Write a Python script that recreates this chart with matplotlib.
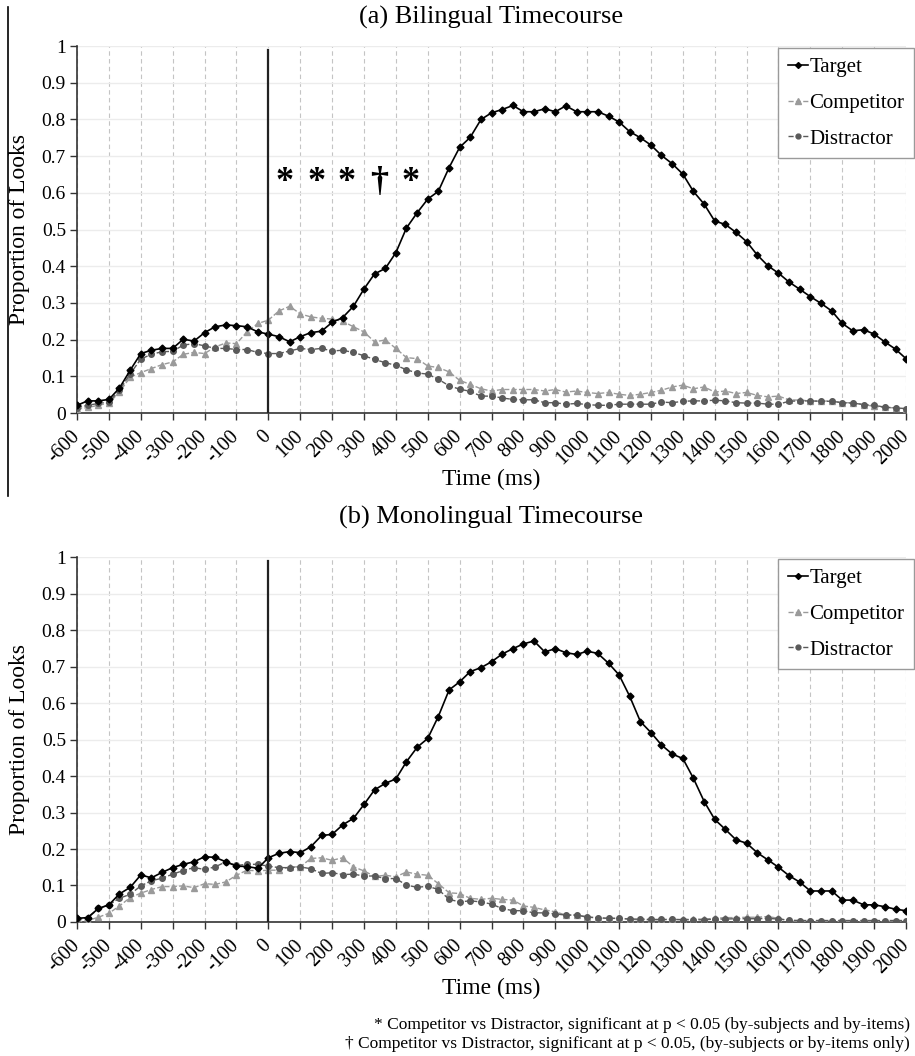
import numpy as np
import matplotlib
matplotlib.use("Agg")
import matplotlib.pyplot as plt
from matplotlib.lines import Line2D

plt.rcParams["font.family"] = ["Liberation Serif", "DejaVu Serif"]

#  time bins (ms), 1/30 s apart
time_ms = [-600, -567, -533, -500, -467, -433, -400, -367, -333, -300,
           -267, -233, -200, -167, -133, -100, -67, -33, 0, 33,
           67, 100, 133, 167, 200, 233, 267, 300, 333, 367,
           400, 433, 467, 500, 533, 567, 600, 633, 667, 700,
           733, 767, 800, 833, 867, 900, 933, 967, 1000, 1033,
           1067, 1100, 1133, 1167, 1200, 1233, 1267, 1300, 1333, 1367,
           1400, 1433, 1467, 1500, 1533, 1567, 1600, 1633, 1667, 1700,
           1733, 1767, 1800, 1833, 1867, 1900, 1933, 1967, 2000]

#  (a) bilingual
bil_target = [0.021, 0.033, 0.033, 0.037, 0.068, 0.117, 0.162, 0.171, 0.176, 0.176,
              0.201, 0.196, 0.219, 0.235, 0.240, 0.238, 0.235, 0.221, 0.215, 0.208,
              0.194, 0.208, 0.219, 0.223, 0.247, 0.260, 0.291, 0.338, 0.379, 0.394,
              0.437, 0.504, 0.546, 0.583, 0.604, 0.669, 0.724, 0.751, 0.800, 0.818,
              0.827, 0.838, 0.821, 0.821, 0.829, 0.821, 0.837, 0.821, 0.821, 0.821,
              0.809, 0.793, 0.767, 0.750, 0.730, 0.702, 0.679, 0.651, 0.604, 0.569,
              0.523, 0.514, 0.492, 0.467, 0.431, 0.401, 0.381, 0.357, 0.337, 0.317,
              0.299, 0.278, 0.244, 0.224, 0.227, 0.215, 0.194, 0.174, 0.148]
bil_comp = [0.010, 0.015, 0.021, 0.027, 0.057, 0.098, 0.110, 0.121, 0.132, 0.139,
            0.160, 0.165, 0.162, 0.180, 0.191, 0.189, 0.221, 0.244, 0.253, 0.278,
            0.291, 0.270, 0.262, 0.258, 0.256, 0.250, 0.235, 0.221, 0.194, 0.199,
            0.176, 0.151, 0.148, 0.128, 0.124, 0.112, 0.089, 0.078, 0.066, 0.060,
            0.064, 0.064, 0.064, 0.064, 0.060, 0.064, 0.057, 0.060, 0.056, 0.053,
            0.056, 0.051, 0.048, 0.051, 0.056, 0.062, 0.071, 0.076, 0.066, 0.071,
            0.057, 0.060, 0.053, 0.056, 0.048, 0.044, 0.046, 0.036, 0.035, 0.033,
            0.032, 0.033, 0.028, 0.028, 0.023, 0.018, 0.015, 0.014, 0.010]
bil_dist = [0.014, 0.021, 0.026, 0.030, 0.062, 0.107, 0.147, 0.160, 0.167, 0.168,
            0.185, 0.189, 0.183, 0.176, 0.176, 0.173, 0.173, 0.165, 0.162, 0.162,
            0.169, 0.176, 0.173, 0.176, 0.169, 0.171, 0.165, 0.156, 0.146, 0.137,
            0.130, 0.118, 0.109, 0.106, 0.092, 0.074, 0.065, 0.059, 0.046, 0.046,
            0.041, 0.037, 0.036, 0.036, 0.028, 0.028, 0.024, 0.026, 0.023, 0.021,
            0.021, 0.024, 0.024, 0.024, 0.024, 0.030, 0.028, 0.032, 0.033, 0.033,
            0.035, 0.033, 0.028, 0.027, 0.027, 0.024, 0.024, 0.032, 0.033, 0.033,
            0.032, 0.032, 0.028, 0.027, 0.023, 0.021, 0.016, 0.014, 0.012]

#  (b) monolingual
mono_target = [0.010, 0.012, 0.037, 0.047, 0.077, 0.095, 0.129, 0.121, 0.136, 0.149,
               0.158, 0.165, 0.179, 0.177, 0.165, 0.153, 0.152, 0.147, 0.176, 0.188,
               0.193, 0.190, 0.206, 0.237, 0.240, 0.266, 0.284, 0.322, 0.362, 0.380,
               0.392, 0.439, 0.479, 0.503, 0.563, 0.636, 0.658, 0.686, 0.697, 0.713,
               0.734, 0.749, 0.762, 0.770, 0.740, 0.749, 0.738, 0.733, 0.742, 0.736,
               0.709, 0.677, 0.619, 0.549, 0.519, 0.485, 0.460, 0.448, 0.394, 0.330,
               0.281, 0.254, 0.225, 0.216, 0.190, 0.170, 0.150, 0.127, 0.109, 0.085,
               0.085, 0.085, 0.060, 0.060, 0.047, 0.047, 0.042, 0.035, 0.031]
mono_comp = [0.000, 0.004, 0.013, 0.024, 0.044, 0.067, 0.079, 0.089, 0.097, 0.097,
             0.099, 0.094, 0.105, 0.103, 0.110, 0.128, 0.142, 0.140, 0.142, 0.142,
             0.151, 0.151, 0.174, 0.176, 0.169, 0.176, 0.151, 0.140, 0.125, 0.128,
             0.124, 0.137, 0.131, 0.128, 0.105, 0.080, 0.078, 0.065, 0.062, 0.065,
             0.062, 0.060, 0.044, 0.040, 0.033, 0.028, 0.019, 0.019, 0.015, 0.010,
             0.010, 0.010, 0.008, 0.005, 0.006, 0.006, 0.007, 0.007, 0.008, 0.008,
             0.010, 0.012, 0.012, 0.013, 0.013, 0.015, 0.010, 0.003, 0.002, 0.002,
             0.002, 0.002, 0.001, 0.001, 0.001, 0.001, 0.000, 0.000, 0.000]
mono_dist = [0.007, 0.010, 0.037, 0.047, 0.065, 0.076, 0.099, 0.113, 0.120, 0.131,
             0.141, 0.149, 0.144, 0.151, 0.165, 0.155, 0.158, 0.158, 0.153, 0.149,
             0.149, 0.151, 0.146, 0.133, 0.135, 0.130, 0.131, 0.126, 0.126, 0.119,
             0.119, 0.101, 0.095, 0.098, 0.089, 0.062, 0.055, 0.058, 0.055, 0.049,
             0.037, 0.031, 0.031, 0.025, 0.025, 0.022, 0.019, 0.019, 0.013, 0.012,
             0.010, 0.010, 0.008, 0.008, 0.007, 0.007, 0.007, 0.006, 0.006, 0.006,
             0.008, 0.008, 0.009, 0.009, 0.009, 0.010, 0.008, 0.005, 0.004, 0.004,
             0.004, 0.004, 0.004, 0.004, 0.004, 0.004, 0.004, 0.004, 0.004]

#  significance marks over panel (a)
sig_times = [50, 150, 245, 347, 445]
sig_marks = ["*", "*", "*", "\u2020", "*"]
sig_level = 0.628

x_ticks = list(range(-600, 2001, 100))
y_ticks = [0, 0.1, 0.2, 0.3, 0.4, 0.5, 0.6, 0.7, 0.8, 0.9, 1]
y_tick_labels = ["0", "0.1", "0.2", "0.3", "0.4", "0.5", "0.6", "0.7", "0.8", "0.9", "1"]


def draw_panel(ax, target, comp, dist):
    ax.plot(time_ms, comp, color="#9a9a9a", ls="--", lw=1.0, marker="^", ms=5,
            label="Competitor", zorder=3)
    ax.plot(time_ms, dist, color="#5a5a5a", ls="--", lw=1.0, marker="o", ms=4,
            label="Distractor", zorder=3)
    ax.plot(time_ms, target, color="black", ls="-", lw=1.2, marker="D", ms=3.5,
            label="Target", zorder=4)
    ax.axvline(0, ymin=0, ymax=0.99, color="#222222", lw=1.6, zorder=5)
    ax.set_xlim(-600, 2000)
    ax.set_ylim(0, 1)
    ax.set_xticks(x_ticks)
    ax.set_xticklabels([str(t) for t in x_ticks], rotation=45, ha="right", va="center",
                       rotation_mode="anchor", fontsize=14.5)
    ax.set_yticks(y_ticks)
    ax.set_yticklabels(y_tick_labels, fontsize=14)
    ax.tick_params(direction="out", length=5, width=1, color="#333333", pad=3)
    ax.tick_params(axis="x", pad=10)
    for s in ["top", "right"]:
        ax.spines[s].set_visible(False)
    for s in ["left", "bottom"]:
        ax.spines[s].set_color("#333333")
        ax.spines[s].set_linewidth(1.2)
    ax.grid(axis="x", color="#c4c4c4", ls=(0, (4, 3)), lw=0.8)
    ax.grid(axis="y", color="#ececec", ls="-", lw=1.0)
    ax.set_axisbelow(True)
    ax.set_ylabel("Proportion of Looks", fontsize=17, labelpad=8)
    ax.set_xlabel("Time (ms)", fontsize=17, labelpad=0)
    handles = [Line2D([], [], color="black", ls="-", lw=1.2, marker="D", ms=3),
               Line2D([], [], color="#9a9a9a", ls="--", lw=1.0, marker="^", ms=4),
               Line2D([], [], color="#5a5a5a", ls="--", lw=1.0, marker="o", ms=3.5)]
    leg = ax.legend(handles, ["Target", "Competitor", "Distractor"], loc="upper right",
                    bbox_to_anchor=(1.012, 1.0), borderaxespad=0.1, fontsize=15,
                    fancybox=False, edgecolor="#9a9a9a", framealpha=1,
                    handlelength=1.0, handletextpad=0.05, labelspacing=0.78,
                    borderpad=0.45)
    leg.get_frame().set_linewidth(1.0)


fig = plt.figure(figsize=(9.15, 10.56), dpi=100)
ax1 = fig.add_axes([0.0842, 0.6089, 0.9060, 0.3475])
ax2 = fig.add_axes([0.0842, 0.1269, 0.9060, 0.3456])

draw_panel(ax1, bil_target, bil_comp, bil_dist)
draw_panel(ax2, mono_target, mono_comp, mono_dist)

for t, m in zip(sig_times, sig_marks):
    ax1.text(t, sig_level, m, ha="center", va="center", fontsize=26, fontweight="bold")

fig.text(0.537, 0.983, "(a) Bilingual Timecourse", ha="center", va="center", fontsize=19)
fig.text(0.537, 0.510, "(b) Monolingual Timecourse", ha="center", va="center", fontsize=19)

fig.text(0.994, 0.029, "* Competitor vs Distractor, significant at p < 0.05 (by-subjects and by-items)",
         ha="right", va="center", fontsize=12.5)
fig.text(0.994, 0.011, "\u2020 Competitor vs Distractor, significant at p < 0.05, (by-subjects or by-items only)",
         ha="right", va="center", fontsize=12.5)

#  stray frame line along the left edge of the upper panel
fig.add_artist(Line2D([0.009, 0.009], [0.993, 0.53], color="black", lw=1.2))

fig.savefig("out.png", dpi=100)
